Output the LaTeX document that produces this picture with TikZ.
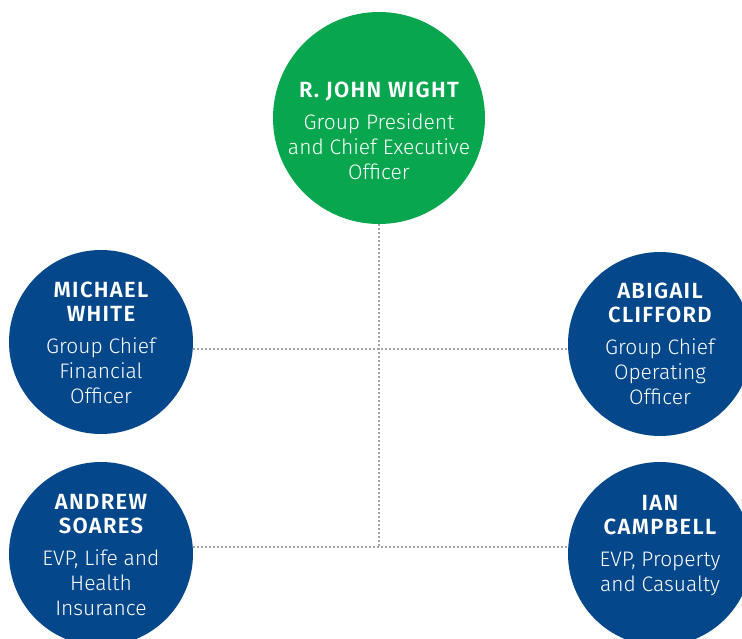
\documentclass[tikz,border=0pt]{standalone}
\usepackage{fontspec}
\setmainfont{Fira Sans}
\newfontfamily\thinfont{Fira Sans Light}
\usepackage{tikz}
\usetikzlibrary{backgrounds}
\definecolor{ceogreen}{HTML}{07A64F}
\definecolor{execblue}{HTML}{04478A}
\definecolor{linkgray}{HTML}{A4A4A4}
\tikzset{every node/.append style={transform shape=false}}
\tikzset{disc/.style={circle, inner sep=0pt, fill=execblue, minimum size=184pt}}
\tikzset{bossdisc/.style={disc, fill=ceogreen, minimum size=212pt}}
\tikzset{txt/.style={text=white, align=center, inner sep=0pt, font=\fontsize{21}{25}\selectfont\thinfont}}
\tikzset{link/.style={linkgray, line width=1.9pt, dash pattern=on 1.9pt off 2.1pt}}
\newcommand{\nm}[1]{{\fontsize{22}{24}\selectfont\bfseries\addfontfeatures{LetterSpace=6}#1}}

\begin{document}
\begin{tikzpicture}[x=1pt, y=-1pt]
\useasboundingbox (0,0) rectangle (742,639);
\clip (0,0) rectangle (742,639);
\node[bossdisc] (ceo) at (379,118) {};
\node[disc] (cfo) at (101,342) {};
\node[disc] (coo) at (660,344) {};
\node[disc] (lhi) at (101,554) {};
\node[disc] (pnc) at (660,554) {};
\coordinate (row1) at (379,349);
\coordinate (row2) at (379,547);
\node[txt] (ceo-t) at ([yshift=-13pt]ceo.center) {\nm{R. JOHN WIGHT}\\[7pt]Group President\\and Chief Executive\\Officer};
\node[txt] (cfo-t) at ([yshift=-1pt]cfo.center) {\nm{MICHAEL}\\[-1pt]\nm{WHITE}\\[7pt]Group Chief\\Financial\\Officer};
\node[txt] (coo-t) at ([yshift=0pt]coo.center) {\nm{ABIGAIL}\\[-1pt]\nm{CLIFFORD}\\[7pt]Group Chief\\Operating\\Officer};
\node[txt] (lhi-t) at ([yshift=-1pt]lhi.center) {\nm{ANDREW}\\[-1pt]\nm{SOARES}\\[7pt]EVP, Life and\\Health\\Insurance};
\node[txt] (pnc-t) at ([yshift=8pt]pnc.center) {\nm{IAN}\\[-1pt]\nm{CAMPBELL}\\[7pt]EVP, Property\\and Casualty};
% dotted connectors behind the discs
\begin{scope}[on background layer]
\draw[link] (ceo) -- (row2);
\draw[link] (cfo.center |- row1) -- (coo.center |- row1);
\draw[link] (lhi.center |- row2) -- (pnc.center |- row2);
\end{scope}
\end{tikzpicture}
\end{document}
